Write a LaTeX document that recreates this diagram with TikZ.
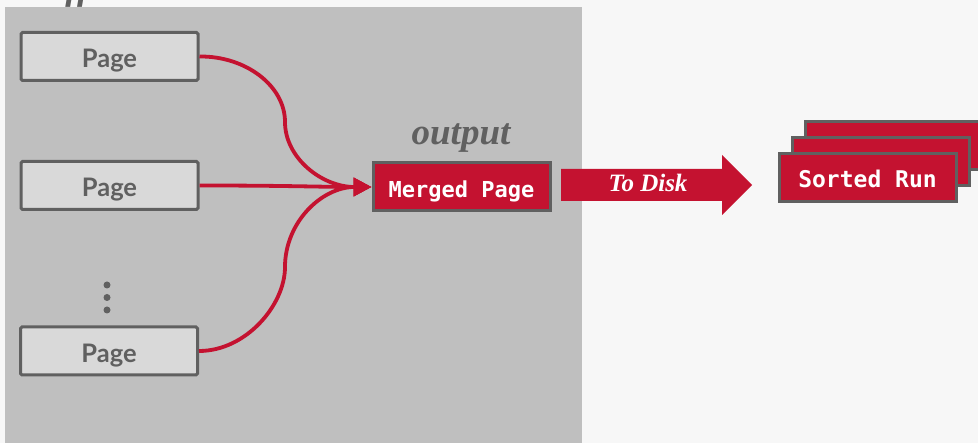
\documentclass[tikz,border=0pt]{standalone}
\usepackage{fontspec}
\usetikzlibrary{arrows.meta}
\newfontfamily\pagefont{Lato}
\newfontfamily\codefont{DejaVu Sans Mono}
\newfontfamily\labelfont{Liberation Serif}
\definecolor{bgpaper}{HTML}{F7F7F7}
\definecolor{panelgray}{HTML}{BFBFBF}
\definecolor{boxgray}{HTML}{D9D9D9}
\definecolor{inkgray}{HTML}{606060}
\definecolor{cmured}{HTML}{C41230}
\tikzset{
  pagebox/.style={draw=inkgray, fill=boxgray, line width=3pt, rounded corners=1.5pt,
    minimum width=177pt, minimum height=48pt, inner sep=0pt,
    font=\pagefont\bfseries\fontsize{25.5}{28}\selectfont, text=inkgray,
    text height=23pt, text depth=0pt},
  redbox/.style={draw=inkgray, fill=cmured, line width=3pt,
    minimum width=177pt, minimum height=48pt, inner sep=0pt,
    font=\codefont\bfseries\fontsize{22}{26}\selectfont, text=white,
    text height=22pt, text depth=0pt},
  feed/.style={draw=cmured, line width=3.8pt, -{Triangle[length=18pt,width=18pt]}},
  seriflabel/.style={font=\labelfont\bfseries\itshape\fontsize{37}{40}\selectfont, text=inkgray, inner sep=0pt},
  dot/.style={circle, fill=inkgray, inner sep=0pt, minimum size=7pt}
}
\begin{document}
\begin{tikzpicture}[x=1pt, y=-1pt]
  \useasboundingbox (0,0) rectangle (978,443);
  \clip (0,0) rectangle (978,443);
  \fill[bgpaper] (0,0) rectangle (978,443);
  % buffer panel and its caption above
  \fill[panelgray] (5,7) rectangle (582,443);
  \node[seriflabel, anchor=base west] (title) at (20,0) {Buffer};

  % input pages
  \node[pagebox] (p1) at (109.5,56.5) {Page};
  \node[pagebox] (p2) at (109.5,185.5) {Page};
  \node[pagebox] (p3) at (109,351) {Page};
  \node[dot] (d1) at (107,285) {};
  \node[dot] (d2) at (107,297.5) {};
  \node[dot] (d3) at (107,310) {};

  % output page
  \node[seriflabel, anchor=base] (outlbl) at (461,145) {output};
  \node[redbox] (merged) at (461.5,187) {Merged Page};

  % merge connectors
  \draw[feed] (p1.east) .. controls (246,56) and (285,86) .. (285,122)
              .. controls (285,158) and (322,187) .. (merged.west);
  \draw[feed] (p2.east) .. controls (290,185.5) and (320,187) .. (merged.west);
  \draw[feed] (p3.east) .. controls (246,351) and (285,305) .. (285,267)
              .. controls (285,222) and (322,187) .. (merged.west);

  % write-out arrow
  \fill[cmured] (561,169) -- (722,169) -- (722,155) -- (752,185) -- (722,215)
                -- (722,201) -- (561,201) -- cycle;
  \node[font=\labelfont\bfseries\itshape\fontsize{25}{28}\selectfont, text=white,
        anchor=base, inner sep=0pt] (todisk) at (648,192) {To Disk};

  % sorted run stack
  \node[redbox] (run3) at (894,146) {};
  \node[redbox] (run2) at (881,162) {};
  \node[redbox, font=\codefont\bfseries\fontsize{23}{26}\selectfont, text height=21pt]
    (run1) at (867.5,177.5) {Sorted Run};
\end{tikzpicture}
\end{document}
